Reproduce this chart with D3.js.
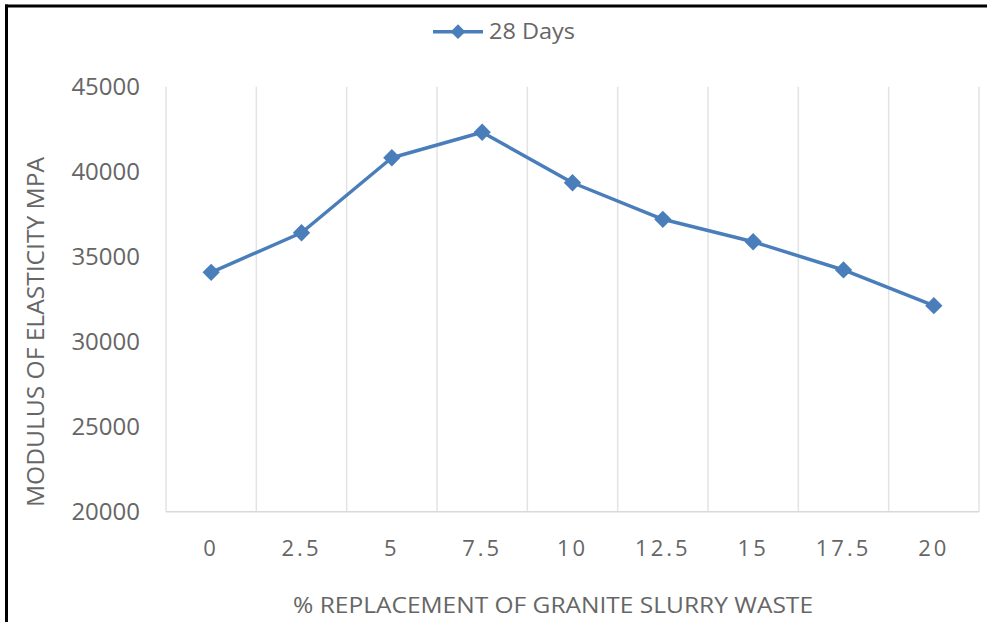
<!DOCTYPE html>
<head>
    <meta charset="utf-8">
    <script src="https://d3js.org/d3.v7.min.js"></script>
    <style>
      body { margin: 0; background: #fff; }
      text { font-family: "Open Sans", "DejaVu Sans", sans-serif; fill: #666666; }
    </style>
</head>

<body>
<div id="chart"></div>

<script>
  // chart data
  var categories = ["0", "2.5", "5", "7.5", "10", "12.5", "15", "17.5", "20"];
  var values28 = [34080, 36410, 40820, 42320, 39350, 37200, 35880, 34220, 32120];
  var yTicks = [20000, 25000, 30000, 35000, 40000, 45000];
  var seriesName = "28 Days";
  var xTitle = "% REPLACEMENT OF GRANITE SLURRY WASTE";
  var yTitle = "MODULUS OF ELASTICITY MPA";

  var width = 987;
  var height = 622;
  var margin = {top: 87, right: 8, bottom: 110, left: 166};
  var blue = "#4a7ebb";

  var svg = d3.select("#chart").append("svg")
      .attr("width", width)
      .attr("height", height);

  // frame (top and left edges only show in the picture)
  svg.append("rect").attr("x", 5).attr("y", 4.5).attr("width", 3).attr("height", height).attr("fill", "#000");
  svg.append("rect").attr("x", 5).attr("y", 4.5).attr("width", width).attr("height", 3).attr("fill", "#000");

  var x = d3.scaleBand()
      .domain(categories)
      .range([margin.left, 979]);

  var y = d3.scaleLinear()
      .domain([20000, 45000])
      .range([511.7, 86.7]);

  var g = svg.append("g");

  // vertical gridlines at category boundaries
  var bounds = categories.map(function(c) { return x(c); }).concat([x(categories[categories.length - 1]) + x.bandwidth()]);
  g.selectAll(".grid")
    .data(bounds)
    .enter().append("line")
    .attr("class", "grid")
    .attr("x1", function(d) { return d; })
    .attr("x2", function(d) { return d; })
    .attr("y1", y(45000))
    .attr("y2", y(20000))
    .attr("stroke", "#e3e3e3")
    .attr("stroke-width", 1.5);

  // bottom axis line
  g.append("line")
    .attr("x1", margin.left).attr("x2", 979)
    .attr("y1", y(20000)).attr("y2", y(20000))
    .attr("stroke", "#d9d9d9")
    .attr("stroke-width", 1.5);

  // y tick labels
  g.selectAll(".ytick")
    .data(yTicks)
    .enter().append("text")
    .attr("class", "ytick")
    .attr("x", 140)
    .attr("y", function(d) { return y(d); })
    .attr("dy", "0.36em")
    .attr("text-anchor", "end")
    .style("font-size", "24px")
    .text(function(d) { return d; });

  // x tick labels
  g.selectAll(".xtick")
    .data(categories)
    .enter().append("text")
    .attr("class", "xtick")
    .attr("x", function(d) { return x(d) + x.bandwidth() / 2; })
    .attr("y", 548)
    .attr("dy", "0.36em")
    .attr("text-anchor", "middle")
    .style("font-size", "22px")
    .style("letter-spacing", "3px")
    .text(function(d) { return d; });

  // axis titles
  svg.append("text")
    .attr("x", 553)
    .attr("y", 613)
    .attr("text-anchor", "middle")
    .attr("textLength", 520)
    .attr("lengthAdjust", "spacingAndGlyphs")
    .style("font-size", "22px")
    .text(xTitle);

  svg.append("text")
    .attr("transform", "translate(44,332) rotate(-90)")
    .attr("text-anchor", "middle")
    .attr("textLength", 350)
    .attr("lengthAdjust", "spacingAndGlyphs")
    .style("font-size", "23px")
    .text(yTitle);

  // series line + diamond markers
  var line = d3.line()
    .x(function(d, i) { return x(categories[i]) + x.bandwidth() / 2; })
    .y(function(d) { return y(d); });

  g.append("path")
    .datum(values28)
    .attr("d", line)
    .attr("fill", "none")
    .attr("stroke", blue)
    .attr("stroke-width", 3.5)
    .attr("stroke-linejoin", "round");

  var diamond = d3.symbol().type(d3.symbolSquare).size(150);
  g.selectAll(".marker")
    .data(values28)
    .enter().append("path")
    .attr("class", "marker")
    .attr("d", diamond)
    .attr("transform", function(d, i) {
      return "translate(" + (x(categories[i]) + x.bandwidth() / 2) + "," + y(d) + ") rotate(45)";
    })
    .attr("fill", blue);

  // legend
  var legend = svg.append("g").attr("transform", "translate(433,31.7)");
  legend.append("line").attr("x1", 0).attr("x2", 50).attr("stroke", blue).attr("stroke-width", 3.5);
  legend.append("path").attr("d", d3.symbol().type(d3.symbolSquare).size(110)).attr("transform", "translate(25,0) rotate(45)").attr("fill", blue);
  legend.append("text")
    .attr("x", 56)
    .attr("dy", "0.36em")
    .attr("textLength", 86)
    .attr("lengthAdjust", "spacingAndGlyphs")
    .style("font-size", "21px")
    .text(seriesName);
</script>
</body>
</html>
